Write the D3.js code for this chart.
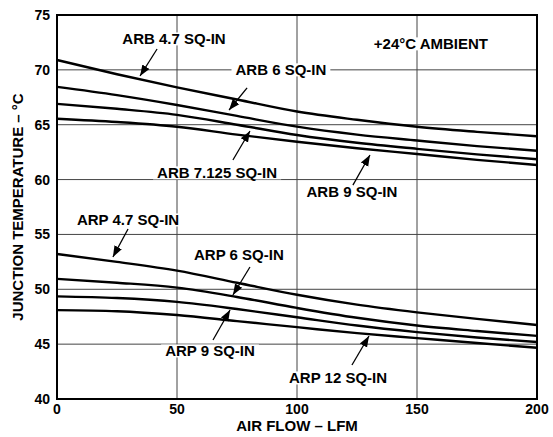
<!DOCTYPE html>
<html>
<head>
<meta charset="utf-8">
<script src="https://cdn.jsdelivr.net/npm/d3@7"></script>
<style>
  body { margin: 0; background: #fff; }
  text { font-family: "Liberation Sans", Arial, sans-serif; font-weight: bold; fill: #000; }
</style>
</head>
<body>
<div id="chart"></div>
<script>
// air flow (LFM) sample points
const airFlow = [0, 25, 50, 75, 100, 125, 150, 175, 200];

// junction temperature (°C) per heat sink
const arb47  = [70.9, 69.6, 68.4, 67.3, 66.2, 65.45, 64.82, 64.35, 63.94];
const arb6   = [68.45, 67.7, 66.8, 65.8, 64.82, 64.1, 63.56, 63.05, 62.63];
const arb7   = [66.9, 66.45, 65.9, 65.0, 64.06, 63.35, 62.8, 62.3, 61.85];
const arb9   = [65.55, 65.25, 64.82, 64.1, 63.45, 62.85, 62.33, 61.8, 61.33];
const arp47  = [53.22, 52.5, 51.7, 50.6, 49.5, 48.6, 47.9, 47.3, 46.75];
const arp6   = [50.95, 50.6, 50.15, 49.3, 48.3, 47.4, 46.7, 46.2, 45.75];
const arp9   = [49.35, 49.2, 48.85, 48.2, 47.45, 46.7, 46.1, 45.6, 45.2];
const arp12  = [48.1, 48.0, 47.65, 47.1, 46.55, 46.0, 45.55, 45.1, 44.67];

const series = [arb47, arb6, arb7, arb9, arp47, arp6, arp9, arp12];

const xTicks = [0, 50, 100, 150, 200];
const yTicks = [40, 45, 50, 55, 60, 65, 70, 75];

// callouts: label at (lx, ly), arrow from (ax, ay) to tip (tx, ty), in data units
const labels = [
  { text: "ARB 4.7 SQ-IN",   lx: 48.75, ly: 72.81, ax: 41.7, ay: 71.9,  tx: 34.6,  ty: 69.44 },
  { text: "ARB 6 SQ-IN",     lx: 93.3,  ly: 69.99, ax: 79.2, ay: 68.35, tx: 71.7,  ty: 66.34 },
  { text: "ARB 7.125 SQ-IN", lx: 66.7,  ly: 60.6,  ax: 73.3, ay: 61.78, tx: 80.4,  ty: 64.43 },
  { text: "ARB 9 SQ-IN",     lx: 122.9, ly: 58.87, ax: 123.3, ay: 59.5, tx: 130.4, ty: 62.24 },
  { text: "+24°C AMBIENT",   lx: 155.8, ly: 72.36 },
  { text: "ARP 4.7 SQ-IN",   lx: 29.6,  ly: 56.31, ax: 29.6, ay: 55.49, tx: 23.3,  ty: 52.94 },
  { text: "ARP 6 SQ-IN",     lx: 75.8,  ly: 53.12, ax: 80.4, ay: 52.03, tx: 73.3,  ty: 49.48 },
  { text: "ARP 9 SQ-IN",     lx: 63.75, ly: 44.37, ax: 65.0, ay: 45.38, tx: 72.1,  ty: 48.11 },
  { text: "ARP 12 SQ-IN",    lx: 117.1, ly: 41.91, ax: 122.9, ay: 43.1, tx: 130.0, ty: 45.74 }
];

const W = 553, H = 437;
const margin = { top: 15, right: 16, bottom: 38, left: 57 };
const iw = W - margin.left - margin.right;
const ih = H - margin.top - margin.bottom;

const svg = d3.select("#chart").append("svg")
  .attr("width", W)
  .attr("height", H);

svg.append("defs").append("marker")
  .attr("id", "head")
  .attr("viewBox", "0 0 10 10")
  .attr("refX", 10).attr("refY", 5)
  .attr("markerWidth", 11).attr("markerHeight", 11)
  .attr("markerUnits", "userSpaceOnUse")
  .attr("orient", "auto")
  .append("path")
  .attr("d", "M0,1.2 L10,5 L0,8.8 Z")
  .attr("fill", "#000");

const g = svg.append("g").attr("transform", `translate(${margin.left},${margin.top})`);

const x = d3.scaleLinear().domain([0, 200]).range([0, iw]);
const y = d3.scaleLinear().domain([40, 75]).range([ih, 0]);

// grid
g.append("g").selectAll("line")
  .data(xTicks.slice(1, -1))
  .join("line")
  .attr("x1", d => x(d)).attr("x2", d => x(d))
  .attr("y1", 0).attr("y2", ih)
  .attr("stroke", "#444").attr("stroke-width", 1);

g.append("g").selectAll("line")
  .data(yTicks.slice(1, -1))
  .join("line")
  .attr("x1", 0).attr("x2", iw)
  .attr("y1", d => y(d)).attr("y2", d => y(d))
  .attr("stroke", "#444").attr("stroke-width", 1);

// curves
const line = d3.line()
  .x((d, i) => x(airFlow[i]))
  .y(d => y(d))
  .curve(d3.curveMonotoneX);

g.append("g").selectAll("path")
  .data(series)
  .join("path")
  .attr("d", line)
  .attr("fill", "none")
  .attr("stroke", "#000")
  .attr("stroke-width", 2.4);

// labels with white boxes that cut the grid
const lab = g.append("g").selectAll("g")
  .data(labels)
  .join("g");

const txt = lab.append("text")
  .attr("x", d => x(d.lx))
  .attr("y", d => y(d.ly))
  .attr("dy", "0.36em")
  .attr("text-anchor", "middle")
  .attr("font-size", 15)
  .text(d => d.text);

txt.each(function () {
  const b = this.getBBox();
  d3.select(this.parentNode).insert("rect", "text")
    .attr("x", b.x - 4).attr("y", b.y + 2)
    .attr("width", b.width + 8).attr("height", b.height - 4)
    .attr("fill", "#fff");
});

// arrows
g.append("g").selectAll("line")
  .data(labels.filter(d => d.ax !== undefined))
  .join("line")
  .attr("x1", d => x(d.ax)).attr("y1", d => y(d.ay))
  .attr("x2", d => x(d.tx)).attr("y2", d => y(d.ty))
  .attr("stroke", "#000")
  .attr("stroke-width", 1.3)
  .attr("marker-end", "url(#head)");

// frame
g.append("rect")
  .attr("width", iw).attr("height", ih)
  .attr("fill", "none")
  .attr("stroke", "#000")
  .attr("stroke-width", 2);

// tick labels
g.append("g").selectAll("text")
  .data(xTicks)
  .join("text")
  .attr("x", d => x(d))
  .attr("y", ih + 15)
  .attr("text-anchor", "middle")
  .attr("font-size", 14)
  .text(d => d);

g.append("g").selectAll("text")
  .data(yTicks)
  .join("text")
  .attr("x", -7)
  .attr("y", d => y(d))
  .attr("dy", "0.36em")
  .attr("text-anchor", "end")
  .attr("font-size", 14)
  .text(d => d);

// axis titles
g.append("text")
  .attr("x", iw / 2)
  .attr("y", ih + 32)
  .attr("text-anchor", "middle")
  .attr("font-size", 15)
  .text("AIR FLOW – LFM");

g.append("text")
  .attr("transform", `translate(${-34},${ih / 2}) rotate(-90)`)
  .attr("text-anchor", "middle")
  .attr("font-size", 15)
  .text("JUNCTION TEMPERATURE – °C");
</script>
</body>
</html>
